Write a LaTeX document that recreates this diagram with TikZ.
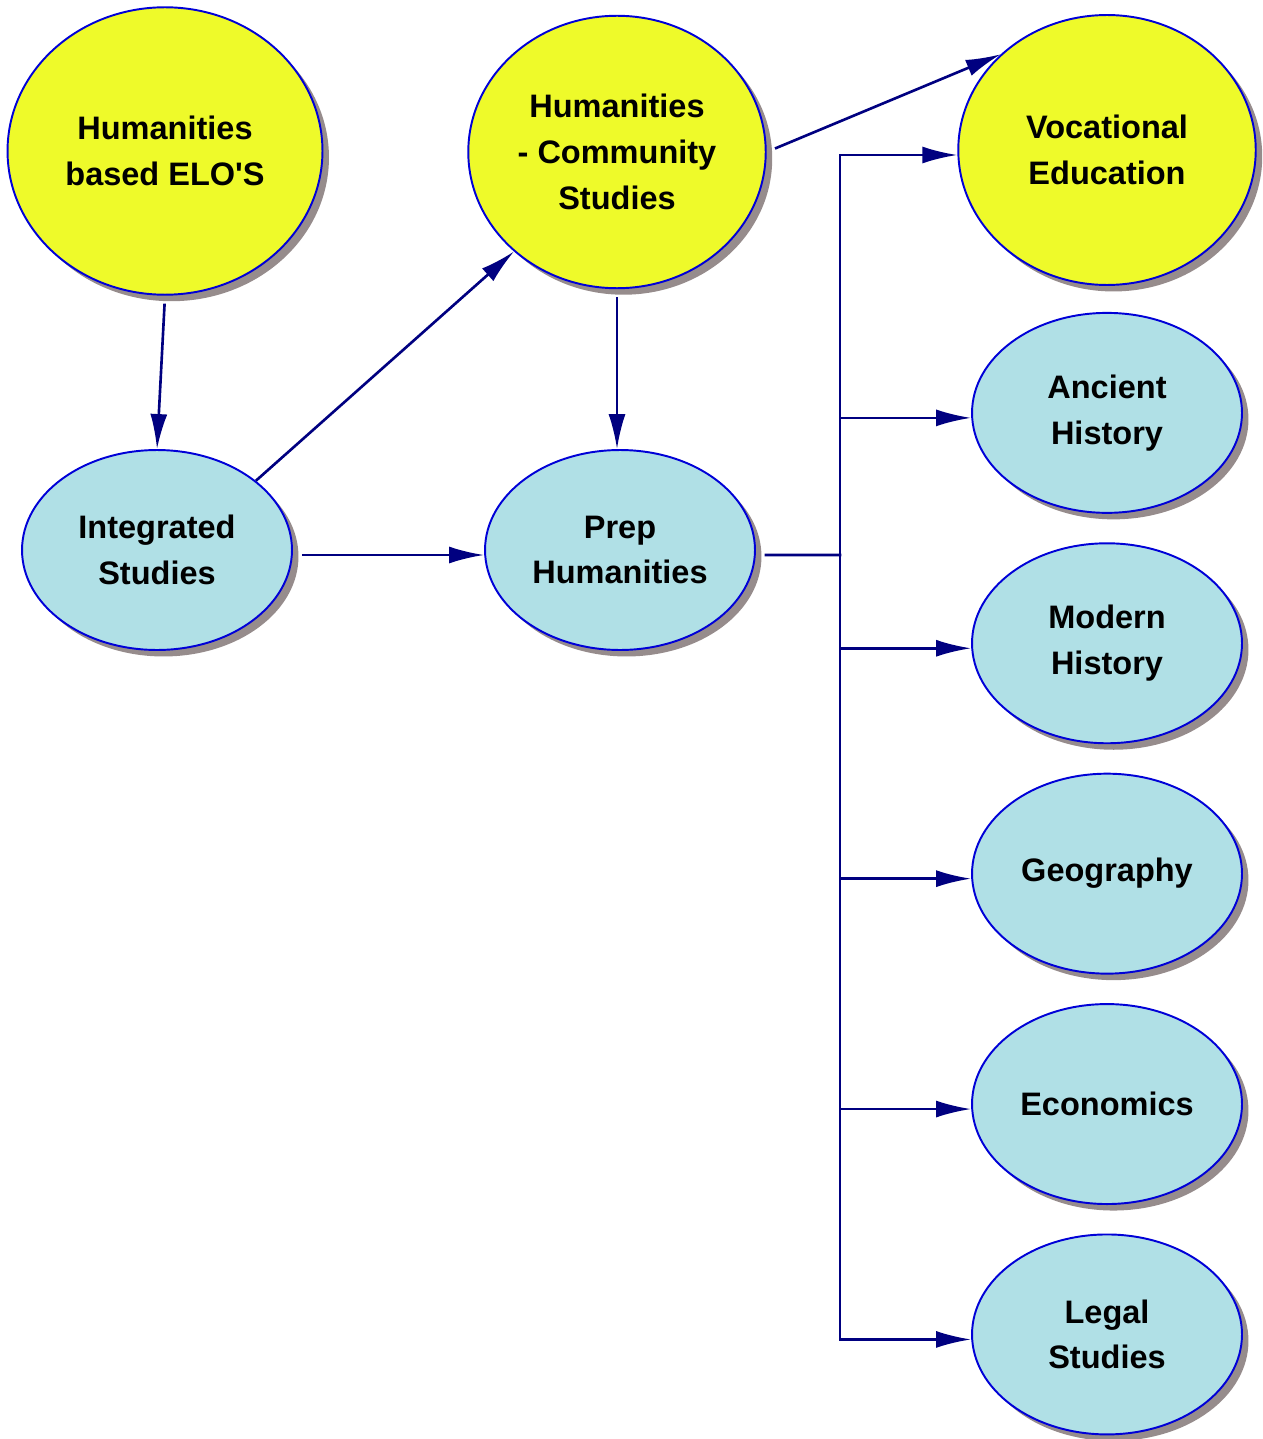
\documentclass[tikz,border=0pt]{standalone}
\usepackage{fontspec}
\setmainfont{Liberation Sans}
\usepackage{tikz}
\usetikzlibrary{arrows.meta,positioning,shapes.geometric,shadows}
\definecolor{cmyel}{RGB}{238,250,42}
\definecolor{cmblue}{RGB}{176,224,230}
\definecolor{cmedge}{RGB}{0,0,215}
\definecolor{cmlink}{RGB}{0,0,128}
\definecolor{cmshade}{RGB}{150,140,140}
\tikzset{
  topic/.style={
    ellipse, draw=cmedge, line width=1.1pt, align=center, inner sep=0pt,
    font=\fontsize{18.5}{26}\selectfont\bfseries,
    drop shadow={shadow xshift=0.13cm, shadow yshift=-0.13cm, fill=cmshade, opacity=1}
  },
  hub/.style={topic, fill=cmyel},
  subj/.style={topic, fill=cmblue, minimum width=5.4cm, minimum height=4cm},
  arr/.style={-{Latex[length=0.7cm,width=0.34cm]}, draw=cmlink, line width=1.5pt},
  bus/.style={draw=cmlink, line width=1.5pt, line cap=rect}
}
\begin{document}
\begin{tikzpicture}[x=0.02cm, y=-0.02cm]
  \useasboundingbox (0,0) rectangle (1263,1439);
  % top row
  \node[hub, minimum width=6.3cm, minimum height=5.75cm] (elo) at (165,151) {Humanities\\based ELO\textquotesingle S};
  \node[hub, minimum width=5.95cm, minimum height=5.45cm] (comm) at (617,152) {Humanities\\- Community\\Studies};
  \node[hub, minimum width=5.95cm, minimum height=5.4cm] (voc) at (1107,150) {Vocational\\Education};
  % subjects
  \node[subj, below=0.52cm of voc] (anc) {Ancient\\History};
  \node[subj, below=0.57cm of anc] (mod) {Modern\\History};
  \node[subj, below=0.57cm of mod] (geo) {Geography};
  \node[subj, below=0.57cm of geo] (eco) {Economics};
  \node[subj, below=0.57cm of eco] (legal) {Legal\\Studies};
  \node[subj] (integ) at (157,550) {Integrated\\Studies};
  \node[subj] (prep) at (620,550) {Prep\\Humanities};
  % links
  \draw[arr, shorten <=0.16cm] (elo.south) -- (integ.north);
  \draw[arr] (integ.35) -- (comm.224);
  \draw[arr, shorten <=0.16cm] (comm.south) -- (comm.south |- prep.north);
  \draw[arr, shorten <=0.18cm] ([yshift=-0.1cm]integ.east) -- ([yshift=-0.1cm]prep.west);
  \draw[arr, shorten <=0.18cm] (comm.east) -- (voc.138);
  \coordinate (fork) at (840,555);
  \draw[bus, shorten <=0.2cm] ([yshift=-0.1cm]prep.east) -- (fork);
  \draw[bus] ([yshift=-0.1cm]fork |- voc.west) -- ([yshift=-0.1cm]fork |- legal.west);
  \foreach \t in {voc,anc,mod,geo,eco,legal}
    \draw[arr] ([yshift=-0.1cm]fork |- \t.west) -- ([yshift=-0.1cm]\t.west);
\end{tikzpicture}
\end{document}
